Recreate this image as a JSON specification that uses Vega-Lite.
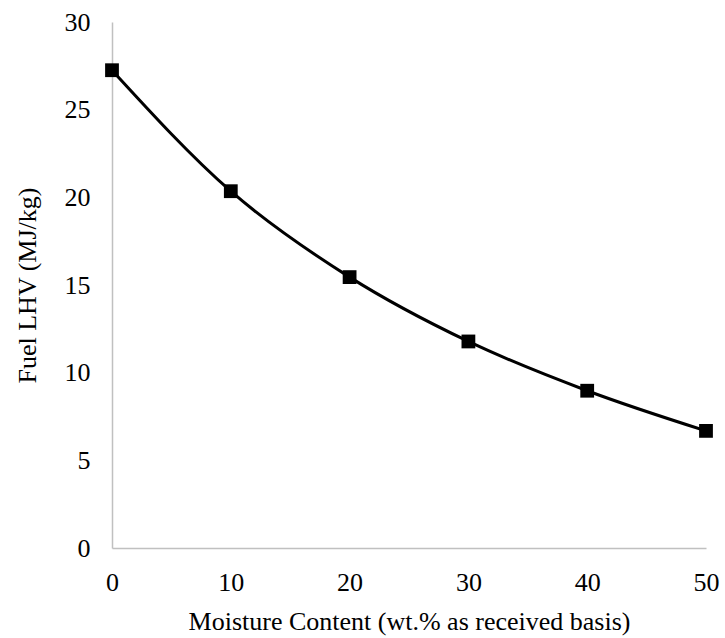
{
  "$schema": "https://vega.github.io/schema/vega-lite/v6.json",
  "width": 594,
  "height": 526,
  "autosize": "none",
  "padding": {"left": 112, "top": 22, "right": 19, "bottom": 90},
  "background": "white",
  "config": {
    "view": {"stroke": null},
    "font": "Liberation Serif",
    "axis": {
      "grid": false,
      "ticks": false,
      "domainColor": "#c0c0c0",
      "domainWidth": 1.5,
      "labelFont": "Liberation Serif",
      "titleFont": "Liberation Serif",
      "labelFontSize": 26,
      "titleFontSize": 26,
      "titleFontWeight": "normal",
      "labelColor": "#000000",
      "titleColor": "#000000"
    }
  },
  "data": {
    "values": [
      {"moisture": 0, "lhv": 27.25},
      {"moisture": 10, "lhv": 20.35},
      {"moisture": 20, "lhv": 15.45},
      {"moisture": 30, "lhv": 11.78},
      {"moisture": 40, "lhv": 8.97},
      {"moisture": 50, "lhv": 6.68}
    ]
  },
  "encoding": {
    "x": {
      "field": "moisture",
      "type": "quantitative",
      "scale": {"domain": [0, 50], "nice": false, "zero": true},
      "axis": {"values": [0, 10, 20, 30, 40, 50], "title": "Moisture Content (wt.%  as received basis)", "labelPadding": 21, "titlePadding": 13, "labelFlush": false}
    },
    "y": {
      "field": "lhv",
      "type": "quantitative",
      "scale": {"domain": [0, 30], "nice": false},
      "axis": {"values": [0, 5, 10, 15, 20, 25, 30], "title": "Fuel LHV (MJ/kg)", "labelPadding": 22, "titlePadding": 24, "labelFlush": false}
    }
  },
  "layer": [
    {"mark": {"type": "line", "interpolate": "monotone", "color": "#000000", "strokeWidth": 3}},
    {"mark": {"type": "square", "color": "#000000", "filled": true, "opacity": 1, "size": 190}}
  ]
}
